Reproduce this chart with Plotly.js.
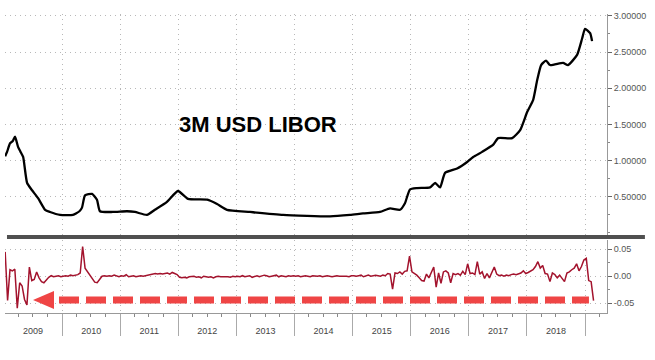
<!DOCTYPE html>
<html>
<head>
<meta charset="utf-8">
<script src="https://cdn.plot.ly/plotly-3.0.1.min.js"></script>
<style>html,body{margin:0;padding:0;background:#fff;}#chart{width:655px;height:360px;}</style>
</head>
<body>
<div id="chart"></div>
<script>
// 3M USD LIBOR level (%)
var liborDates = ['2009-01-08','2009-01-20','2009-02-08','2009-02-25','2009-03-11','2009-03-30','2009-04-15','2009-05-01','2009-05-26','2009-06-26','2009-08-03','2009-09-16','2009-10-17','2009-12-19','2010-03-10','2010-04-20','2010-05-06','2010-05-25','2010-07-08','2010-08-08','2010-08-27','2010-11-16','2011-02-13','2011-04-04','2011-06-18','2011-08-07','2011-10-22','2011-12-30','2012-03-03','2012-07-01','2012-09-01','2012-11-02','2013-03-27','2013-10-21','2014-08-12','2014-12-16','2015-03-07','2015-06-22','2015-08-24','2015-10-26','2015-11-26','2015-12-27','2016-02-10','2016-05-02','2016-06-03','2016-07-04','2016-08-04','2016-10-19','2016-12-21','2017-01-28','2017-03-25','2017-06-03','2017-07-04','2017-09-30','2017-11-19','2018-01-02','2018-02-09','2018-03-06','2018-03-31','2018-05-01','2018-05-26','2018-08-16','2018-09-16','2018-11-12','2018-12-14','2019-01-01','2019-02-02','2019-02-14'];
var liborValues = [1.06,1.12,1.24,1.27,1.33,1.19,1.12,1.05,0.69,0.59,0.48,0.32,0.29,0.25,0.25,0.30,0.35,0.52,0.54,0.46,0.30,0.29,0.30,0.29,0.25,0.32,0.43,0.58,0.47,0.46,0.40,0.32,0.29,0.25,0.23,0.25,0.27,0.29,0.34,0.32,0.41,0.60,0.62,0.63,0.69,0.63,0.83,0.89,0.98,1.05,1.12,1.22,1.31,1.31,1.42,1.67,1.84,2.11,2.32,2.38,2.32,2.35,2.32,2.46,2.69,2.82,2.76,2.65];

// Change series, semi-monthly samples starting 2009-01-08
var changeStart = '2009-01-08';
var changeStepMs = 1315008000;
var changeValues = [
 0.045,-0.045,0.012,0.010,0.013,-0.059,-0.012,-0.018,-0.043,-0.053,0.017,-0.008,-0.006,0.008,-0.003,-0.010,-0.012,-0.006,-0.002,0.001,-0.001,0.000,0.001,-0.001,
 0.000,0.001,0.000,0.002,0.001,0.002,0.003,0.006,0.055,0.015,0.008,0.001,-0.004,-0.011,-0.012,-0.006,0.000,0.001,0.000,0.001,0.000,0.002,0.001,-0.001,
 0.001,0.000,0.003,-0.001,0.000,0.001,-0.001,0.000,0.001,0.000,0.001,0.002,0.003,0.004,0.005,0.004,0.005,0.004,0.005,0.006,0.004,0.007,0.005,0.003,
 -0.002,-0.003,-0.002,-0.003,-0.001,-0.001,0.000,-0.002,-0.001,-0.003,0.000,-0.001,-0.002,-0.001,-0.003,-0.001,0.000,-0.001,-0.001,0.000,-0.001,-0.002,0.000,-0.001,
 0.000,-0.001,0.001,-0.001,0.000,0.001,-0.002,0.000,0.001,-0.001,0.000,0.002,0.001,-0.001,0.000,0.001,0.002,-0.001,0.001,0.000,-0.001,0.001,0.000,0.001,
 0.000,0.001,-0.001,0.000,0.001,0.000,-0.001,0.001,0.000,0.000,0.001,-0.001,0.000,0.001,0.000,-0.001,0.000,0.001,0.000,0.000,0.001,0.000,-0.001,0.001,
 0.001,0.000,0.001,0.002,-0.001,0.001,0.002,0.000,0.001,0.002,0.001,0.000,0.002,0.001,0.005,0.004,-0.024,0.006,0.005,0.008,0.004,0.009,0.010,0.037,
 0.008,0.005,0.002,-0.003,-0.008,-0.009,0.004,-0.003,0.006,0.017,-0.020,0.006,-0.013,0.008,0.010,0.006,-0.012,0.005,0.003,0.005,0.002,0.009,0.003,0.023,
 0.005,0.006,0.003,0.027,0.004,0.008,-0.004,0.005,-0.003,0.006,0.017,0.004,0.001,0.002,0.000,0.002,0.001,0.003,0.004,0.003,0.005,0.006,0.010,0.005,
 0.007,0.009,0.012,0.018,0.027,0.015,0.020,0.005,0.004,-0.010,0.006,0.003,-0.003,0.002,-0.005,-0.010,0.006,0.008,0.012,0.015,0.023,0.010,0.018,0.030,
 0.033,-0.008,-0.010,-0.045
];

var topTicks = [0.5,1.0,1.5,2.0,2.5,3.0];
var bottomTicks = [-0.05,0,0.05];
var bottomTickText = ['-0.05','0.00','0.05'];

var traces = [
  {type:'scatter', mode:'lines', x:liborDates, y:liborValues, xaxis:'x', yaxis:'y',
   line:{color:'#000', width:2.3, shape:'spline', smoothing:0.5}, hoverinfo:'skip'},
  {type:'scatter', mode:'lines', x0:changeStart, dx:changeStepMs, y:changeValues, xaxis:'x', yaxis:'y2',
   line:{color:'#a3132d', width:1.5}, hoverinfo:'skip'}
];

var gridCol = '#b8b8b8';
var layout = {
  width:655, height:360,
  margin:{l:5, r:48, t:14, b:47},
  paper_bgcolor:'#fff', plot_bgcolor:'#fff',
  showlegend:false,
  font:{family:'Liberation Sans, Arial, sans-serif', size:9, color:'#555'},
  xaxis:{
    type:'date', range:['2009-01-07','2019-05-19'], anchor:'y2',
    tick0:'2009-01-01', dtick:'M12', tickformat:'%Y', ticklabelmode:'period',
    showgrid:true, gridcolor:gridCol, griddash:'1px,4px', gridwidth:1,
    ticks:'outside', ticklen:22, tickcolor:'#aaa', tickwidth:1,
    showline:true, linecolor:'#999', linewidth:1, zeroline:false,
    ticklabelstandoff:-13,
    tickfont:{size:9, color:'#444'},
    minor:{dtick:'M3', ticks:'outside', ticklen:3, tickcolor:'#888', showgrid:false}
  },
  yaxis:{
    domain:[0.2609,1], range:[-0.028,3.025], side:'right', anchor:'x',
    tickvals:topTicks, tickformat:'.5f',
    ticks:'outside', ticklen:4, tickcolor:'#666',
    showline:true, linecolor:'#999', linewidth:1,
    showgrid:true, gridcolor:gridCol, griddash:'1px,4px', zeroline:false,
    tickfont:{size:9, color:'#555'},
    minor:{dtick:0.25, ticks:'outside', ticklen:2, tickcolor:'#888', showgrid:false}
  },
  yaxis2:{
    domain:[0,0.2441], range:[-0.068,0.067], side:'right', anchor:'x',
    tickvals:bottomTicks, ticktext:bottomTickText,
    ticks:'outside', ticklen:4, tickcolor:'#666',
    showline:true, linecolor:'#999', linewidth:1,
    showgrid:true, gridcolor:gridCol, griddash:'1px,4px', zeroline:false,
    tickfont:{size:9, color:'#555'},
    minor:{dtick:0.025, ticks:'outside', ticklen:2, tickcolor:'#888', showgrid:false}
  },
  annotations:[
    {text:'<b>3M USD LIBOR</b>', xref:'paper', yref:'paper', x:0.420, y:0.679,
     showarrow:false, font:{family:'Liberation Sans, Arial, sans-serif', size:22, color:'#000'}}
  ],
  shapes:[
    {type:'rect', xref:'paper', yref:'paper', x0:0.0033, x1:1.063, y0:0.2475, y1:0.2609,
     fillcolor:'#505050', line:{width:0}, layer:'above'},
    {type:'line', xref:'paper', yref:'paper', x0:0.0897, x1:0.970, y0:0.0435, y1:0.0435,
     line:{color:'#ef4545', width:7, dash:'20px,7px'}, layer:'above'},
    {type:'path', xref:'paper', yref:'paper', path:'M 0.0465 0.0435 L 0.0814 0.0736 L 0.0814 0.0134 Z',
     fillcolor:'#ef4545', line:{width:0}, layer:'above'}
  ]
};

Plotly.newPlot('chart', traces, layout, {displayModeBar:false, staticPlot:true});
</script>
</body>
</html>
